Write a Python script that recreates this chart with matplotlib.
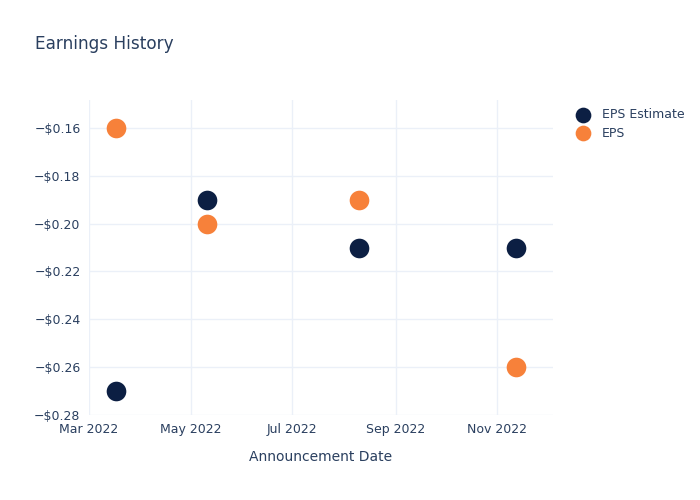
import numpy as np
import matplotlib
matplotlib.use("Agg")
from matplotlib import pyplot as plt
import matplotlib.dates as mdates
from matplotlib.ticker import FuncFormatter
from datetime import datetime

dates = ["2022-03-17", "2022-05-11", "2022-08-10", "2022-11-12"]
eps_estimate = [-0.27, -0.19, -0.21, -0.21]
eps_actual = [-0.16, -0.20, -0.19, -0.26]

text_color = "#2a3f5f"
grid_color = "#ebf0f8"
navy = "#0c1f43"
orange = "#f7813a"

x = [datetime.strptime(d, "%Y-%m-%d") for d in dates]

fig = plt.figure(figsize=(7, 5), dpi=100)
ax = fig.add_axes([0.127, 0.17, 0.663, 0.63])

ax.scatter(x, eps_estimate, s=200, color=navy, label="EPS Estimate", zorder=3, linewidths=0)
ax.scatter(x, eps_actual, s=200, color=orange, label="EPS", zorder=3, linewidths=0)

ax.set_xlim(datetime(2022, 3, 1), datetime(2022, 12, 4, 12))
ax.set_ylim(-0.28, -0.1483)
ax.set_yticks(np.arange(-0.28, -0.159, 0.02))
ax.yaxis.set_major_formatter(FuncFormatter(lambda v, p: "\u2212$%.2f" % abs(v)))
ax.xaxis.set_major_locator(mdates.MonthLocator(bymonth=[3, 5, 7, 9, 11]))
ax.xaxis.set_major_formatter(mdates.DateFormatter("%b %Y"))

ax.grid(True, color=grid_color, linewidth=1)
ax.set_axisbelow(True)
for s in ax.spines.values():
    s.set_visible(False)
ax.tick_params(length=0, colors=text_color, labelsize=9, pad=6)

ax.set_xlabel("Announcement Date", color=text_color, fontsize=10, labelpad=9.5)
fig.text(0.05, 0.912, "Earnings History", color=text_color, fontsize=12.2, va="center")

ax.legend(loc="upper left", bbox_to_anchor=(1.027, 0.99), frameon=False,
          fontsize=9, labelcolor=text_color, handletextpad=0.5, borderaxespad=0,
          labelspacing=0.45, markerscale=0.8)

fig.savefig("out.png", dpi=100)
